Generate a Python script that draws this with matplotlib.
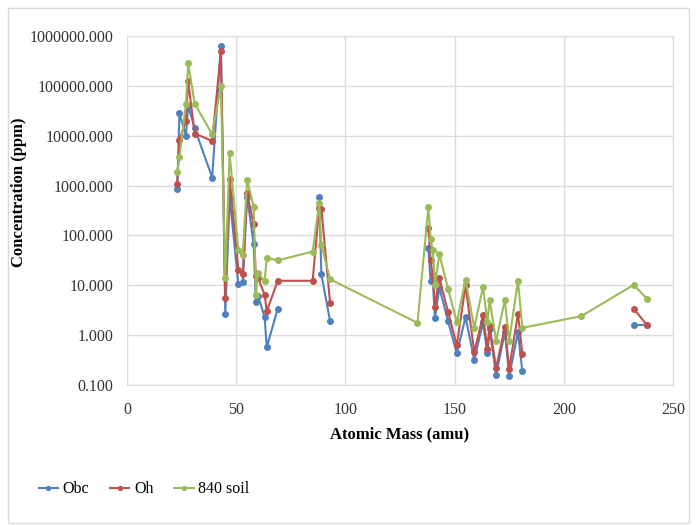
import numpy as np
import matplotlib
matplotlib.use('Agg')
import matplotlib.pyplot as plt
from matplotlib.ticker import FuncFormatter, FixedLocator, NullLocator
from matplotlib.patches import Rectangle

nan = np.nan

mass = [23, 24, 27, 28, 31, 39, 43, 45, 47, 51, 53, 55, 58, 59, 60, 63, 64, 69,
        85, 88, 89, 93, 133, 138, 139, 140, 141, 143, 147, 151, 155, 159, 163,
        165, 166, 169, 173, 175, 179, 181, 208, 232, 238]

obc = [850, 28000, 10000, 40000, 14000, 1450, 630000, 2.7, 600, 10.5, 11.5, 600,
       66, 4.6, 6.2, 2.3, 0.57, 3.4,
       nan, 590, 16.5, 1.9, nan, 55, 12, 13, 2.2, 9, 1.9, 0.43, 2.3, 0.32, 1.8,
       0.43, 1.3, 0.16, 1.15, 0.15, 1.15, 0.19, nan, 1.6, 1.6]

oh = [1100, 8100, 20000, 126000, 11000, 7900, 490000, 5.6, 1380, 20.5, 16.5, 700,
      166, 15, 14, 6.5, 3.0, 12.3,
      12.3, 360, 340, 4.4, nan, 140, 32, 16, 3.7, 14, 2.9, 0.62, 10, 0.45, 2.5,
      0.52, 1.55, 0.22, 1.45, 0.21, 2.7, 0.42, nan, 3.4, 1.6]

soil = [1900, 3700, 44000, 282000, 44000, 10700, 99000, 13.8, 4400, 50, 40, 1300,
        380, 6.4, 17.8, 12, 35.5, 31.6,
        47.5, 446, 65, 13.2, 1.76, 380, 85, 50, 10, 42, 8.5, 1.8, 13, 1.4, 9.3,
        1.8, 5.1, 0.77, 5.1, 0.77, 12.4, 1.4, 2.4, 10.2, 5.4]

series = [('Obc', obc, '#4F81BD'), ('Oh', oh, '#C0504D'), ('840 soil', soil, '#9BBB59')]

plt.rcParams['font.family'] = ['Liberation Serif', 'DejaVu Serif']

fig = plt.figure(figsize=(6.97, 5.25), dpi=100)
fig.patches.append(Rectangle((0.012, 0.004), 0.976, 0.98, transform=fig.transFigure,
                             fill=False, edgecolor='#d9d9d9', linewidth=1))
ax = fig.add_axes([0.1822, 0.2667, 0.7834, 0.6647])

for name, vals, col in series:
    ax.plot(mass, vals, color=col, marker='o', markersize=4, linewidth=1.5, label=name)

ax.set_yscale('log')
ax.set_ylim(0.1, 1e6)
ax.set_xlim(0, 250)
ax.yaxis.set_major_locator(FixedLocator([10.0 ** k for k in range(-1, 7)]))
ax.yaxis.set_minor_locator(NullLocator())
ax.yaxis.set_major_formatter(FuncFormatter(lambda v, p: '%.3f' % v))
ax.set_xticks([0, 50, 100, 150, 200, 250])
ax.tick_params(axis='y', length=0, labelsize=11.5, colors='#333333', pad=10)
ax.tick_params(axis='x', length=0, labelsize=11.5, colors='#333333', pad=12)
ax.grid(True, color='#dcdcdc', linewidth=1)
ax.set_axisbelow(True)
for s in ax.spines.values():
    s.set_color('#dcdcdc')

ax.set_xlabel('Atomic Mass (amu)', fontsize=12, fontweight='bold', labelpad=6)
ax.set_ylabel('Concentration (ppm)', fontsize=12, fontweight='bold')
ax.yaxis.set_label_coords(-0.183, 0.553)

fig.legend(loc='center left', bbox_to_anchor=(0.035, 0.068), ncol=3, frameon=False,
           fontsize=11.5, handlelength=1.2, handletextpad=0.3, columnspacing=1.3,
           markerscale=0.7)

fig.savefig('out.png', dpi=100)
